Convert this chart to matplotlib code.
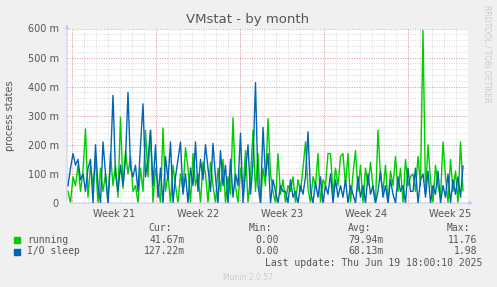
import numpy as np
import matplotlib.pyplot as plt

# ---------------------------------------------
# Munin VMstat - by month
# ---------------------------------------------

# values in milli-units (m), one sample every ~5 hours
running = [
    40, 0, 90, 60, 130, 40, 110, 255, 20, 130, 60, 150, 0, 120, 40, 100, 0, 170, 60, 130,
    20, 295, 50, 180, 100, 160, 40,
    60, 0, 120, 40, 250, 90, 250, 0, 120, 60, 0, 258, 40, 100, 0, 130, 60, 0, 100, 40,
    190, 120, 0, 170, 60, 100, 0, 140,
    100, 0, 140, 60, 0, 120, 40, 150, 0, 90, 30, 293, 60, 0, 120, 40, 180, 0, 90, 250,
    40, 170, 0, 120, 60, 290, 100,
    40, 0, 170, 30, 80, 0, 60, 40, 90, 0, 80, 40, 120, 210, 50, 0, 90, 60, 170, 0,
    80, 60, 170, 170, 30, 120, 60, 160,
    170, 60, 170, 0, 100, 180, 40, 130, 0, 120, 60, 140, 50, 0, 250, 90, 40, 130, 0, 110,
    60, 160, 40, 120, 0, 150, 60, 90,
    100, 40, 160, 60, 593, 30, 200, 80, 0, 130, 60, 20, 210, 90, 0, 150, 40, 110, 0, 210,
    42,
]
io_sleep = [
    60, 120, 170, 130, 150, 80, 100, 40, 120, 150, 0, 200, 60, 0, 210, 100, 0, 140, 370, 100,
    40, 130, 60, 150, 380, 120, 90,
    130, 40, 200, 341, 90, 150, 250, 60, 200, 20, 120, 0, 160, 80, 210, 0, 90, 150, 210, 30,
    100, 0, 120, 60, 210, 40, 150, 80,
    200, 120, 40, 205, 90, 0, 180, 60, 130, 0, 150, 20, 100, 60, 240, 0, 110, 200, 30, 140,
    414, 60, 0, 260, 90, 170, 0,
    80, 40, 0, 60, 40, 40, 0, 80, 20, 40, 0, 60, 30, 90, 245, 40, 0, 70, 20, 90,
    0, 60, 30, 100, 0, 80, 20, 60,
    20, 80, 0, 60, 30, 0, 90, 20, 60, 0, 100, 30, 60, 0, 40, 110, 20, 60, 0, 80,
    30, 0, 90, 40, 60, 0, 120, 40,
    40, 120, 0, 80, 100, 20, 110, 0, 60, 30, 110, 0, 60, 20, 100, 0, 80, 30, 90, 20,
    127,
]

week_labels = ['Week 21', 'Week 22', 'Week 23', 'Week 24', 'Week 25']
y_ticks = [0, 100, 200, 300, 400, 500, 600]

legend_rows = [
    ('running', '#00cc00', '41.67m', '0.00', '79.94m', '11.76'),
    ('I/O sleep', '#0066b3', '127.22m', '0.00', '68.13m', '1.98'),
]

# time axis in days, 12 px per day
span = 401 / 12
first_week = 0.44
t = np.linspace(1 / 12, 33.0, len(running))

W, H = 497, 287
fig = plt.figure(figsize=(W / 100, H / 100), dpi=100, facecolor='#f0f0f0')
ax = fig.add_axes([67 / W, (H - 203) / H, 401 / W, 174.5 / H])
ax.set_facecolor('white')

# grid
for d in np.arange(first_week - 1, span, 1):
    if d > 0:
        ax.axvline(d, color='#d8d8d8', lw=0.7, ls=(0, (1, 1.5)), zorder=1)
for v in range(20, 600, 20):
    ax.axhline(v, color='#d8d8d8', lw=0.7, ls=(0, (1, 1.5)), zorder=1)
for d in np.arange(first_week, span, 7):
    ax.axvline(d, color='#e8a0a0', lw=0.7, ls=(0, (1, 1.5)), zorder=2)
for v in y_ticks[1:]:
    ax.axhline(v, color='#e8a0a0', lw=0.7, ls=(0, (1, 1.5)), zorder=2)

ax.plot(t, running, color='#00cc00', lw=1.0, zorder=3)
ax.plot(t, io_sleep, color='#0066b3', lw=1.0, zorder=4)

ax.set_xlim(0, span)
ax.set_ylim(0, 600)
for s in ax.spines.values():
    s.set_visible(False)

ax.set_yticks(y_ticks)
ax.set_yticklabels(['0'] + [f'{v} m' for v in y_ticks[1:]])
ax.set_xticks([first_week + 3.5 + 7 * k for k in range(len(week_labels))])
ax.set_xticklabels(week_labels)
ax.tick_params(length=0, labelsize=7, colors='#555555', pad=4)
ax.tick_params(axis='y', pad=6)

# axes with arrow heads
ax.annotate('', xy=(0, 1.04), xytext=(0, 0), xycoords='axes fraction',
            arrowprops=dict(arrowstyle='-|>', color='#c8ccf4', lw=0.8, mutation_scale=6),
            annotation_clip=False)
ax.annotate('', xy=(1.02, 0), xytext=(0, 0), xycoords='axes fraction',
            arrowprops=dict(arrowstyle='-|>', color='#c8ccf4', lw=0.8, mutation_scale=6),
            annotation_clip=False)

fig.text(248 / W, 1 - 19 / H, 'VMstat - by month', ha='center', va='center',
         fontsize=9.5, color='#555555')
fig.text(10 / W, 1 - 116 / H, 'process states', rotation=90, ha='center', va='center',
         fontsize=7, color='#555555')
fig.text(487 / W, 1 - 5 / H, 'RRDTOOL / TOBI OETIKER', rotation=270, ha='center', va='top',
         fontsize=5.5, color='#cccccc')

# legend table
mono = dict(family='DejaVu Sans Mono', fontsize=7, color='#555555', va='center')
cols = [185, 279, 384, 477]
heads = [('Cur:', 172), ('Min:', 272), ('Avg:', 371), ('Max:', 470)]
for txt, x in heads:
    fig.text(x / W, 1 - 228 / H, txt, ha='right', **mono)
for row, (name, color, *vals) in enumerate(legend_rows):
    y = 240 + 11.5 * row
    fig.patches.append(plt.Rectangle((14 / W, 1 - (y + 3) / H), 6 / W, 6 / H,
                                     transform=fig.transFigure, color=color))
    fig.text(27 / W, 1 - y / H, name, ha='left', **mono)
    for v, x in zip(vals, cols):
        fig.text(x / W, 1 - y / H, v, ha='right', **mono)
fig.text(482 / W, 1 - 263 / H, 'Last update: Thu Jun 19 18:00:10 2025', ha='right', **mono)
fig.text(248 / W, 1 - 277 / H, 'Munin 2.0.57', ha='center', va='center',
         fontsize=5.5, color='#cccccc')

fig.savefig('out.png', dpi=100, facecolor=fig.get_facecolor())
